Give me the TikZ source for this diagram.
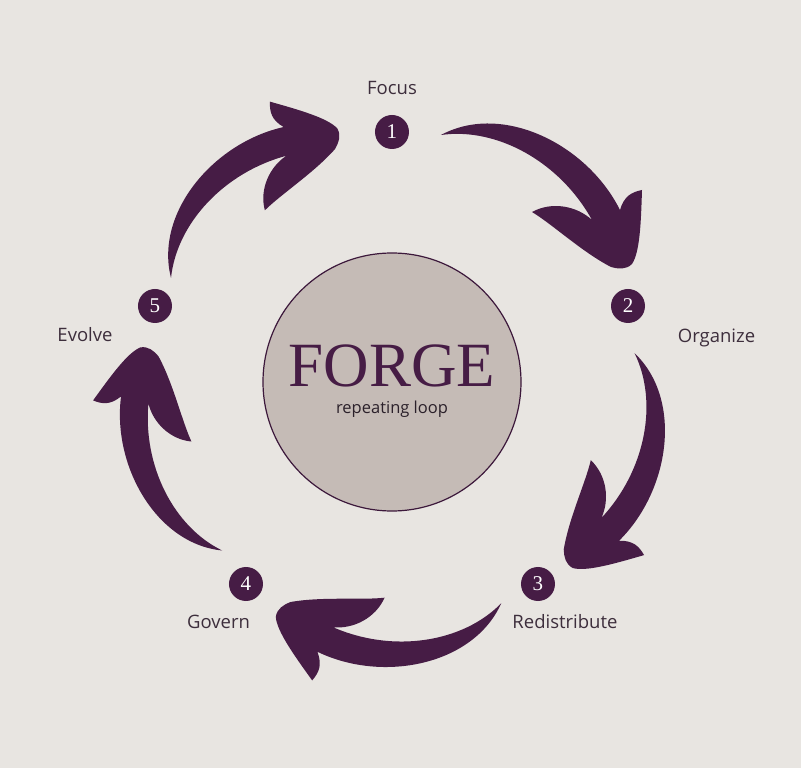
\documentclass[tikz,border=0pt]{standalone}
\usepackage{xcolor}
\usepackage{tikz}
\usepackage{fontspec}
\setmainfont{Liberation Serif}
\newfontfamily\etichettafont{Open Sans}
\definecolor{ViolaForge}{HTML}{461C45}
\definecolor{SfondoForge}{HTML}{E8E5E1}
\definecolor{CerchioForge}{HTML}{C5BBB6}
\definecolor{TestoForge}{HTML}{3D2E3C}

\begin{document}
\begin{tikzpicture}[x = 1pt, y = 1pt,
    passo/.style = {circle, fill = ViolaForge, text = white, minimum size = 34pt,
      inner sep = 0pt, font = \fontsize{21}{21}\selectfont},
    etichetta/.style = {anchor = base, text = TestoForge,
      font = \etichettafont\fontsize{18.5}{20}\selectfont}]

  % background
\fill[SfondoForge] (-392,-386) rectangle (409,382);
\useasboundingbox (-392,-386) rectangle (409,382);

  % centre
\node[circle, draw = ViolaForge!85!black, line width = 1.2pt, fill = CerchioForge,
  minimum size = 258pt, inner sep = 0pt] (forge) at (0,0) {};
\node[text = ViolaForge, font = \fontsize{63}{63}\selectfont] (titolo) at (0,16) {FORGE};
\node[anchor = base, text = TestoForge!70!black, font = \etichettafont\fontsize{16.5}{18}\selectfont]
  (sottotitolo) at (0,-32) {repeating loop};

  % arrows
\foreach \ang/\sc in {0/1, -72/.97, -142.5/.98, -214/.95, -284/.97}{
  \begin{scope}[rotate = \ang, scale = \sc]
    \fill[ViolaForge] (49,247)
    .. controls (110,280) and (195,238) .. (228,172)
    .. controls (232,186) and (240,190) .. (250,192)
    .. controls (249,160) and (248,130) .. (240,118)
    .. controls (234,112) and (226,113) .. (219,115)
    .. controls (190,130) and (160,158) .. (140,170)
    .. controls (160,181) and (185,176) .. (200,162)
    .. controls (168,220) and (105,255) .. (49,247)
    -- cycle;
  \end{scope}
}

  % steps
\node[passo] (p1) at (0,250) {1};
\node[passo] (p2) at (236,76) {2};
\node[passo] (p3) at (146,-202) {3};
\node[passo] (p4) at (-146,-202) {4};
\node[passo] (p5) at (-237,76) {5};

\node[etichetta] (e1) at (0,287) {Focus};
\node[etichetta] (e2) at (324.5,39) {Organize};
\node[etichetta] (e3) at (173,-246) {Redistribute};
\node[etichetta] (e4) at (-173.5,-246) {Govern};
\node[etichetta] (e5) at (-307,40) {Evolve};

\end{tikzpicture}
\end{document}
